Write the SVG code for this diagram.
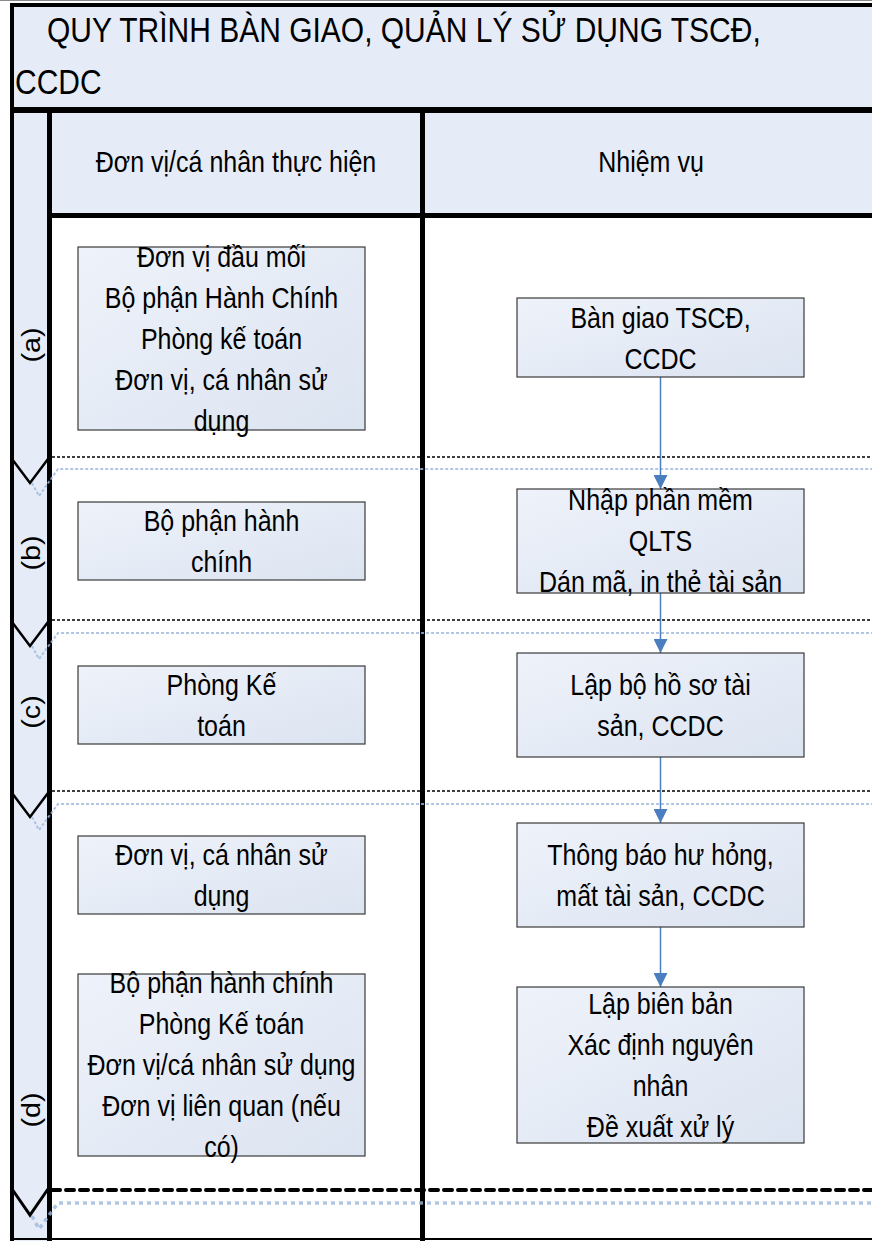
<svg xmlns="http://www.w3.org/2000/svg" width="872" height="1241" viewBox="0 0 872 1241">
<defs>
<linearGradient id="boxg" x1="0" y1="0" x2="1" y2="1">
<stop offset="0" stop-color="#EEF2FA"/>
<stop offset="1" stop-color="#DCE4F1"/>
</linearGradient>
<marker id="arr" viewBox="0 0 10 10" refX="10" refY="5" markerWidth="14" markerHeight="14" markerUnits="userSpaceOnUse" orient="auto">
<path d="M0,0 L10,5 L0,10 z" fill="#4A7EBF"/>
</marker>
<style>
.band{fill:#E6ECF7;}
.box{fill:url(#boxg);stroke:#3a3a3a;stroke-width:1.2;}
.t{font-family:"Liberation Sans",Arial,sans-serif;font-size:25px;fill:#000;text-anchor:middle;}
.title{font-family:"Liberation Sans",Arial,sans-serif;font-size:30px;fill:#000;}
.thick{stroke:#000;fill:none;}
.sep{stroke:#000;stroke-width:1.5;stroke-dasharray:3 2;fill:none;}
.chev{stroke:#000;stroke-width:2.5;fill:none;}
.chevb{stroke:#9DB7DE;stroke-width:2;stroke-dasharray:3 2;fill:none;opacity:0.8;}
.conn{stroke:#4A7EBF;stroke-width:1.5;fill:none;}
</style>
</defs>
<rect width="872" height="1241" fill="#fff"/>
<g id="frame">
<line x1="0" y1="0.5" x2="872" y2="0.5" stroke="#8a8a8a" stroke-width="1"/>
<rect class="band" x="14" y="7" width="858" height="101"/>
<rect class="band" x="52" y="113" width="820" height="100"/>
<rect class="band" x="14" y="113" width="33" height="1128"/>
<line class="thick" x1="10" y1="5" x2="872" y2="5" stroke-width="4"/>
<line class="thick" x1="10" y1="110" x2="872" y2="110" stroke-width="6"/>
<line class="thick" x1="49" y1="215.5" x2="872" y2="215.5" stroke-width="5"/>
<line class="thick" x1="12" y1="3" x2="12" y2="1241" stroke-width="4"/>
<line class="thick" x1="49.5" y1="110" x2="49.5" y2="1241" stroke-width="5"/>
<line class="thick" x1="422.5" y1="110" x2="422.5" y2="1241" stroke-width="5"/>
<line class="thick" x1="12" y1="1239" x2="872" y2="1239" stroke-width="2"/>
</g>
<g id="title">
<text class="title" transform="translate(47,42) scale(1,1.15)">QUY TRÌNH BÀN GIAO, QUẢN LÝ SỬ DỤNG TSCĐ,</text>
<text class="title" transform="translate(15,94) scale(1,1.15)">CCDC</text>
</g>
<g id="col-headers">
<text class="t" transform="translate(236,172) scale(1,1.15)">Đơn vị/cá nhân thực hiện</text>
<text class="t" transform="translate(651,172) scale(1,1.15)">Nhiệm vụ</text>
</g>
<g id="lanes">
<text class="t" transform="translate(40,345) rotate(-90) scale(1.15,1)">(a)</text>
<text class="t" transform="translate(40,553) rotate(-90) scale(1.15,1)">(b)</text>
<text class="t" transform="translate(40,712) rotate(-90) scale(1.15,1)">(c)</text>
<text class="t" transform="translate(40,1110) rotate(-90) scale(1.15,1)">(d)</text>
<polyline class="chevb" points="32,483 39,496 58,469 872,469"/>
<line class="sep" x1="52" y1="457" x2="872" y2="457"/>
<polyline class="chev" points="12,459 30,483 48,459"/>
<polyline class="chevb" points="32,646 39,659 58,633 872,633"/>
<line class="sep" x1="52" y1="620" x2="872" y2="620"/>
<polyline class="chev" points="12,622 30,646 48,622"/>
<polyline class="chevb" points="32,817 39,830 58,804 872,804"/>
<line class="sep" x1="52" y1="791" x2="872" y2="791"/>
<polyline class="chev" points="12,793 30,817 48,793"/>
<polyline points="32,1216 39,1229 58,1203 872,1203" style="stroke:#9DB7DE;stroke-width:3.5;stroke-dasharray:4 4;fill:none;opacity:0.8"/>
<line x1="52" y1="1190" x2="872" y2="1190" style="stroke:#000;stroke-width:4;stroke-dasharray:8 6;stroke-linecap:round"/>
<polyline class="chev" points="12,1189 30,1215 48,1189" style="stroke-width:3"/>
</g>
<g id="connectors">
<line class="conn" x1="660.5" y1="377" x2="660.5" y2="489" marker-end="url(#arr)"/>
<line class="conn" x1="660.5" y1="593" x2="660.5" y2="653" marker-end="url(#arr)"/>
<line class="conn" x1="660.5" y1="757" x2="660.5" y2="823" marker-end="url(#arr)"/>
<line class="conn" x1="660.5" y1="927" x2="660.5" y2="987" marker-end="url(#arr)"/>
</g>
<g id="L1">
<rect class="box" x="78" y="247" width="287" height="183"/>
<text class="t" transform="translate(221.5,267) scale(1,1.15)">Đơn vị đầu mối</text>
<text class="t" transform="translate(221.5,308) scale(1,1.15)">Bộ phận Hành Chính</text>
<text class="t" transform="translate(221.5,349) scale(1,1.15)">Phòng kế toán</text>
<text class="t" transform="translate(221.5,390) scale(1,1.15)">Đơn vị, cá nhân sử</text>
<text class="t" transform="translate(221.5,431) scale(1,1.15)">dụng</text>
</g>
<g id="L2">
<rect class="box" x="78" y="502" width="287" height="78"/>
<text class="t" transform="translate(221.5,531) scale(1,1.15)">Bộ phận hành</text>
<text class="t" transform="translate(221.5,572) scale(1,1.15)">chính</text>
</g>
<g id="L3">
<rect class="box" x="78" y="666" width="287" height="78"/>
<text class="t" transform="translate(221.5,695) scale(1,1.15)">Phòng Kế</text>
<text class="t" transform="translate(221.5,736) scale(1,1.15)">toán</text>
</g>
<g id="L4">
<rect class="box" x="78" y="836" width="287" height="78"/>
<text class="t" transform="translate(221.5,865) scale(1,1.15)">Đơn vị, cá nhân sử</text>
<text class="t" transform="translate(221.5,906) scale(1,1.15)">dụng</text>
</g>
<g id="L5">
<rect class="box" x="78" y="974" width="287" height="182"/>
<text class="t" transform="translate(221.5,993) scale(1,1.15)">Bộ phận hành chính</text>
<text class="t" transform="translate(221.5,1034) scale(1,1.15)">Phòng Kế toán</text>
<text class="t" transform="translate(221.5,1075) scale(1,1.15)">Đơn vị/cá nhân sử dụng</text>
<text class="t" transform="translate(221.5,1116) scale(1,1.15)">Đơn vị liên quan (nếu</text>
<text class="t" transform="translate(221.5,1157) scale(1,1.15)">có)</text>
</g>
<g id="R1">
<rect class="box" x="517" y="298" width="287" height="79"/>
<text class="t" transform="translate(660.5,328) scale(1,1.15)">Bàn giao TSCĐ,</text>
<text class="t" transform="translate(660.5,369) scale(1,1.15)">CCDC</text>
</g>
<g id="R2">
<rect class="box" x="517" y="489" width="287" height="104"/>
<text class="t" transform="translate(660.5,510) scale(1,1.15)">Nhập phần mềm</text>
<text class="t" transform="translate(660.5,551) scale(1,1.15)">QLTS</text>
<text class="t" transform="translate(660.5,592) scale(1,1.15)">Dán mã, in thẻ tài sản</text>
</g>
<g id="R3">
<rect class="box" x="517" y="653" width="287" height="104"/>
<text class="t" transform="translate(660.5,695) scale(1,1.15)">Lập bộ hồ sơ tài</text>
<text class="t" transform="translate(660.5,736) scale(1,1.15)">sản, CCDC</text>
</g>
<g id="R4">
<rect class="box" x="517" y="823" width="287" height="104"/>
<text class="t" transform="translate(660.5,865) scale(1,1.15)">Thông báo hư hỏng,</text>
<text class="t" transform="translate(660.5,906) scale(1,1.15)">mất tài sản, CCDC</text>
</g>
<g id="R5">
<rect class="box" x="517" y="987" width="287" height="156"/>
<text class="t" transform="translate(660.5,1014) scale(1,1.15)">Lập biên bản</text>
<text class="t" transform="translate(660.5,1055) scale(1,1.15)">Xác định nguyên</text>
<text class="t" transform="translate(660.5,1096) scale(1,1.15)">nhân</text>
<text class="t" transform="translate(660.5,1137) scale(1,1.15)">Đề xuất xử lý</text>
</g>
</svg>
